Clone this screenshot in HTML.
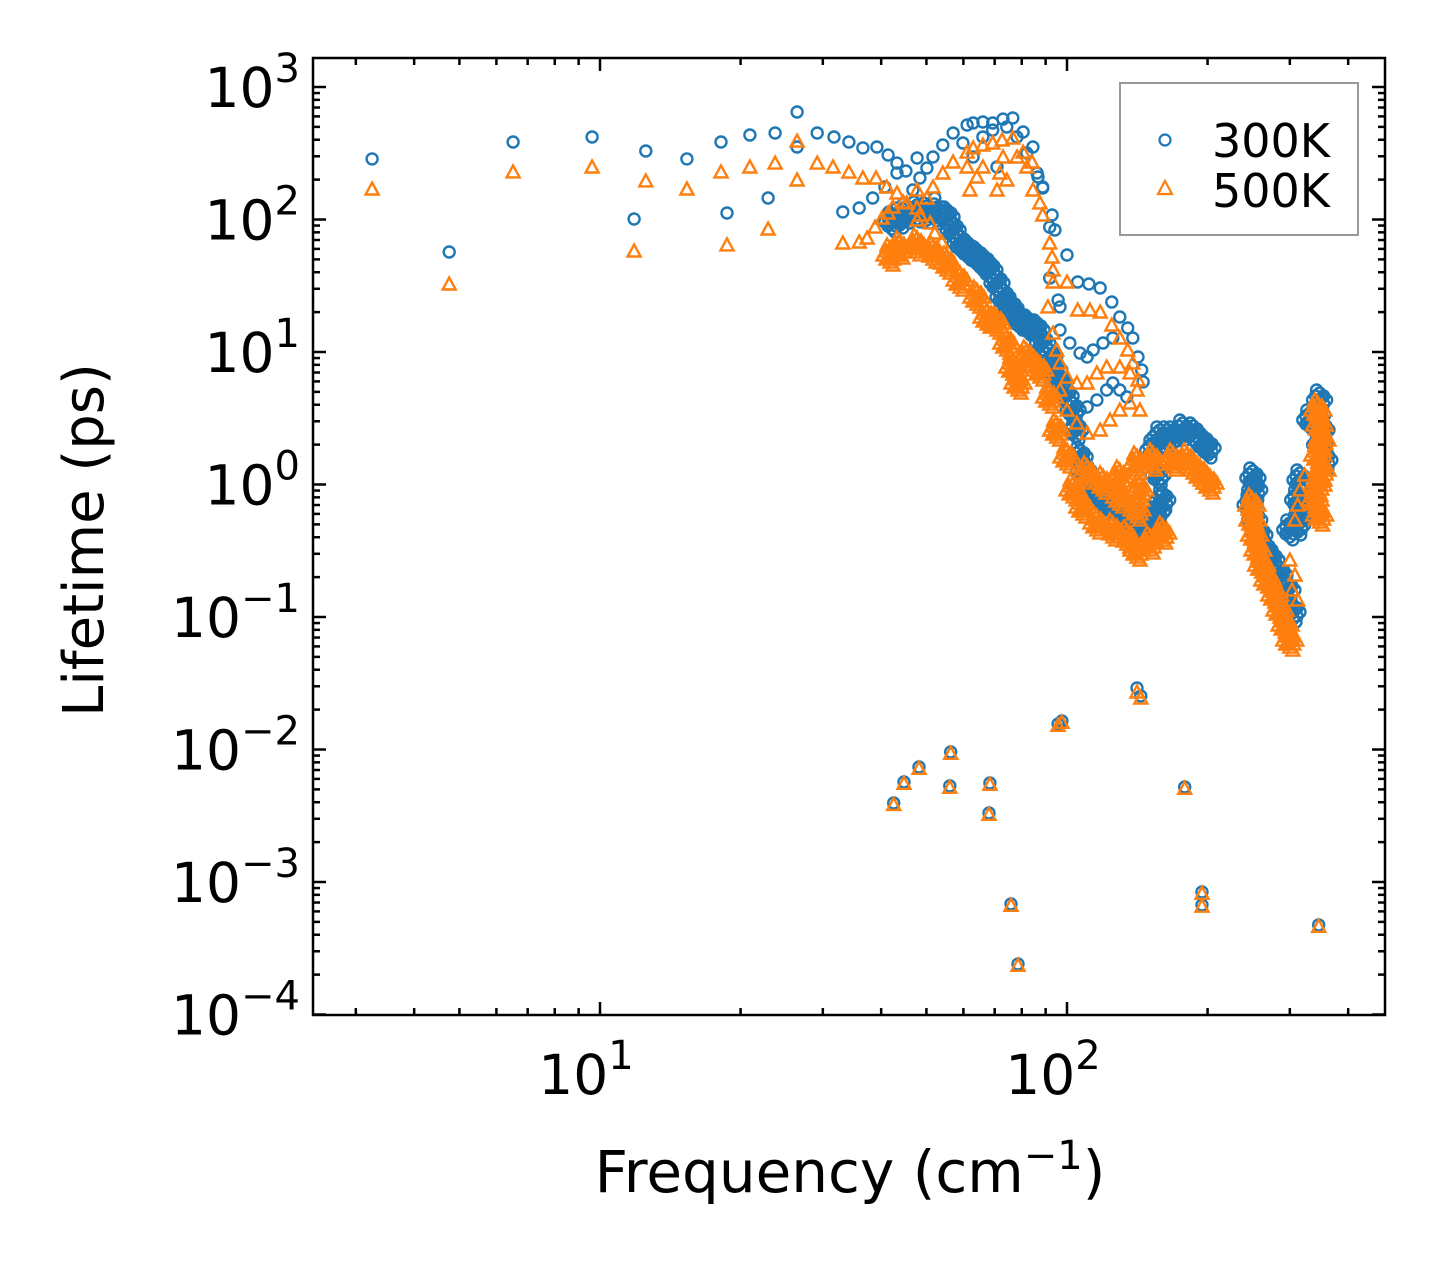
<!DOCTYPE html>
<html><head><meta charset="utf-8"><style>
html,body{margin:0;padding:0;background:#fff;}
svg{display:block;font-family:"DejaVu Sans","Liberation Sans",sans-serif;}
</style></head><body>
<svg id="chart" width="1443" height="1265" viewBox="0 0 1443 1265" xmlns="http://www.w3.org/2000/svg">
<rect x="0" y="0" width="1443" height="1265" fill="#fff"/>
<g id="marks"></g>
<g id="axes"></g>
<g id="legend">
  <rect x="1120" y="83" width="238" height="152" fill="#fff" fill-opacity="0.8" stroke="#999" stroke-width="2"/>
  <circle cx="1165" cy="140" r="5.5" fill="none" stroke="#1f77b4" stroke-width="2.2"/>
  <text x="1212" y="157" font-size="46" fill="#000">300K</text>
  <polygon points="1165,181 1172,194 1158,194" fill="none" stroke="#ff7f0e" stroke-width="2.2"/>
  <text x="1212" y="207" font-size="46" fill="#000">500K</text>
</g>
<text x="850" y="1192" font-size="58" text-anchor="middle" fill="#000">Frequency (cm<tspan dy="-23" font-size="40">−1</tspan><tspan dy="23">)</tspan></text>
<text transform="translate(103,540) rotate(-90)" font-size="56" text-anchor="middle" fill="#000">Lifetime (ps)</text>
</svg>
<script>
// log10 values: [log10 frequency (cm^-1), log10 lifetime (ps)]
const scatter300 = [[0.512,2.457],[0.677,1.755],[0.814,2.585],[0.983,2.623],[1.073,2.004],[1.098,2.517],[1.186,2.457],[1.259,2.585],[1.272,2.049],[1.321,2.638],[1.360,2.162],[1.375,2.653],[1.422,2.811],[1.422,2.547],[1.465,2.653],[1.501,2.623],[1.533,2.585],[1.563,2.540],[1.593,2.547],[1.617,2.487],[1.636,2.426],[1.655,2.366],[1.679,2.464],[1.700,2.389],[1.713,2.472],[1.734,2.562],[1.756,2.653],[1.786,2.713],[1.799,2.728],[1.820,2.736],[1.841,2.728],[1.863,2.758],[1.884,2.766],[1.906,2.660],[1.927,2.547],[1.938,2.321],[1.948,2.238],[1.968,2.034],[1.974,1.921],[2.000,1.732],[1.963,1.558],[2.023,1.528],[2.047,1.513],[2.071,1.483],[2.096,1.377],[2.113,1.264],[2.130,1.181],[2.141,1.106],[2.152,0.962],[2.160,0.864],[2.163,0.774],
[1.520,2.057],[1.555,2.087],[1.584,2.162],[1.610,2.245],[1.636,2.351],[1.670,2.223],[1.685,2.313],[1.717,2.162],[1.732,2.094],[1.777,2.577],[1.799,2.472],[1.820,2.623],[1.841,2.675],[1.850,2.396],[1.871,2.698],[1.893,2.623],[1.914,2.502],[1.936,2.351],[1.948,2.245],[1.963,1.943],[1.981,1.392],[1.985,1.340],[1.985,1.166],[2.006,1.068],[2.028,0.992],[2.043,0.962],[2.056,1.015],[2.077,1.068],[2.098,1.106],[2.098,0.766],[2.085,0.713],[2.064,0.638],[2.043,0.585],[2.113,0.713],[2.128,0.660],
[1.629,-2.404],[1.651,-2.245],[1.683,-2.132],[1.751,-2.019],[1.749,-2.275],[1.835,-2.253],[1.833,-2.479],[1.880,-3.166],[1.895,-3.619],[1.981,-1.807],[1.989,-1.785],[2.150,-1.536],[2.158,-1.596],[2.252,-2.283],[2.289,-3.075],[2.289,-3.173],[2.539,-3.324]];
const band300 = [[1.625,1.981],[1.642,2.011],[1.657,2.049],[1.679,2.057],[1.700,2.049],[1.722,2.042],[1.743,2.019],[1.756,1.921],[1.771,1.823],[1.788,1.770],[1.807,1.717],[1.822,1.672],[1.835,1.619],[1.850,1.521],[1.863,1.415],[1.880,1.332],[1.899,1.241],[1.916,1.204],[1.936,1.166],[1.948,1.068],[1.963,0.962],[1.974,0.864],[1.985,0.766],[1.998,0.668],[2.013,0.562],[2.019,0.411],[2.028,0.208],[2.036,0.109],[2.043,0.011],[2.060,-0.057],[2.077,-0.117],[2.096,-0.155],[2.113,-0.192],[2.128,-0.245],[2.141,-0.290],[2.158,-0.298],[2.178,-0.290],[2.193,-0.208],[2.205,-0.117],[2.195,0.072],[2.184,0.260],[2.199,0.359],[2.214,0.359],[2.227,0.359],[2.248,0.411],[2.270,0.389],[2.291,0.313],[2.302,0.276],
[2.398,0.049],[2.402,-0.041],[2.392,-0.155],[2.402,-0.268],[2.413,-0.381],[2.424,-0.494],[2.439,-0.570],[2.456,-0.683],[2.473,-0.796],[2.484,-0.962],[2.477,-0.343],[2.494,-0.306],[2.541,0.638],[2.537,0.525],[2.546,0.411],[2.541,0.298],[2.552,0.185],[2.499,0.034],[2.494,-0.117],[2.505,-0.192],[2.520,0.487]];
const scatter500 = [[0.512,2.230],[0.677,1.513],[0.814,2.359],[0.983,2.396],[1.073,1.762],[1.098,2.291],[1.186,2.230],[1.259,2.359],[1.272,1.808],[1.321,2.396],[1.360,1.928],[1.375,2.426],[1.422,2.592],[1.422,2.298],[1.465,2.426],[1.499,2.396],[1.533,2.358],[1.563,2.313],[1.591,2.313],[1.614,2.245],[1.636,2.200],[1.657,2.125],[1.679,2.223],[1.700,2.162],[1.713,2.245],[1.734,2.351],[1.756,2.434],[1.786,2.509],[1.799,2.540],[1.820,2.562],[1.841,2.577],[1.861,2.600],[1.884,2.615],[1.906,2.509],[1.925,2.434],[1.927,2.223],[1.942,2.125],[1.948,2.034],[1.963,1.823],[1.968,1.717],[1.970,1.619],[1.970,1.528],[2.000,1.528],[1.959,1.340],[2.023,1.317],[2.049,1.317],[2.071,1.302],[2.096,1.204],[2.113,1.106],[2.130,1.015],[2.141,0.917],[2.152,0.789],
[1.520,1.823],[1.555,1.830],[1.572,1.860],[1.589,1.943],[1.604,2.011],[1.617,2.049],[1.627,2.094],[1.649,2.132],[1.679,2.087],[1.685,2.034],[1.707,1.974],[1.717,1.898],[1.732,1.830],[1.679,1.996],
[1.786,2.396],[1.792,2.223],[1.807,2.321],[1.820,2.396],[1.850,2.223],[1.856,2.351],[1.863,2.472],[1.871,2.298],[1.893,2.472],[1.914,2.396],[1.970,1.143],[1.978,1.015],[1.985,0.917],[2.000,0.811],[2.021,0.766],[2.043,0.766],[2.064,0.842],[2.085,0.887],[2.113,0.887],[2.135,0.842],[2.150,0.713],[1.985,0.713],[2.000,0.562],[2.021,0.464],[2.043,0.389],[2.071,0.411],[2.092,0.487],[2.113,0.562],[2.135,0.615],[2.156,0.562],
[2.509,0.072],[2.499,-0.041],[2.494,-0.155],[2.488,-0.268],[2.477,-0.570],[2.488,-0.683],[2.482,-0.796],[2.494,-0.872],
[1.629,-2.414],[1.651,-2.255],[1.683,-2.142],[1.751,-2.029],[1.749,-2.285],[1.835,-2.263],[1.833,-2.489],[1.880,-3.176],[1.895,-3.629],[1.981,-1.817],[1.989,-1.795],[2.150,-1.566],[2.158,-1.611],[2.252,-2.293],[2.289,-3.085],[2.289,-3.183],[2.539,-3.334]];
const band500 = [[1.621,1.732],[1.642,1.785],[1.679,1.808],[1.713,1.755],[1.743,1.672],[1.771,1.543],[1.807,1.415],[1.829,1.264],[1.850,1.219],[1.871,1.068],[1.884,0.887],[1.895,0.766],[1.914,0.962],[1.942,0.864],[1.963,0.660],[1.978,0.411],[2.000,0.208],[2.013,-0.041],[2.034,-0.170],[2.064,-0.290],[2.098,-0.343],[2.128,-0.396],[2.150,-0.494],[2.178,-0.441],[2.205,-0.366],
[2.043,0.087],[2.077,0.011],[2.113,0.057],[2.150,0.162],[2.184,0.185],[2.227,0.185],[2.257,0.185],[2.285,0.087],[2.306,0.011],[2.113,-0.094],[2.156,-0.041],[2.150,-0.192],
[2.396,-0.155],[2.398,-0.268],[2.402,-0.381],[2.409,-0.494],[2.417,-0.608],[2.430,-0.721],[2.445,-0.834],[2.456,-0.947],[2.467,-1.060],[2.477,-1.174],[2.537,0.562],[2.541,0.449],[2.546,0.336],[2.537,0.223],[2.546,0.109],[2.537,-0.004],[2.531,-0.117],[2.541,-0.230]];
const yTickExps = [3,2,1,0,-1,-2,-3,-4];
const xTickExps = [1,2];

const NS = "http://www.w3.org/2000/svg";
const L = 313, R = 1385, T = 58, B = 1015;
function sx(lf){ return 600 + 467*(lf-1); }
function sy(lt){ return 87 + 132.5*(3-lt); }
const marks = document.getElementById('marks');
const axes = document.getElementById('axes');

function circ(x,y,name){
  const c = document.createElementNS(NS,'circle');
  c.setAttribute('cx',x.toFixed(1)); c.setAttribute('cy',y.toFixed(1)); c.setAttribute('r',5.5);
  c.setAttribute('fill','none'); c.setAttribute('stroke','#1f77b4'); c.setAttribute('stroke-width','2.4');
  
  
  marks.appendChild(c);
}
function tri(x,y,name){
  const p = document.createElementNS(NS,'polygon');
  p.setAttribute('points',`${x.toFixed(1)},${(y-6.5).toFixed(1)} ${(x+6.5).toFixed(1)},${(y+5.5).toFixed(1)} ${(x-6.5).toFixed(1)},${(y+5.5).toFixed(1)}`);
  p.setAttribute('fill','none'); p.setAttribute('stroke','#ff7f0e'); p.setAttribute('stroke-width','2.4');
  
  
  marks.appendChild(p);
}
const thick = [[0,0],[-4,-4],[4,-4],[-4,4],[4,4],[0,-7],[0,7],[-7,0],[7,0],[-3,-10],[3,10],[-2,2],[2,-2]];
scatter300.forEach(d=>circ(sx(d[0]),sy(d[1]),'point-300k'));
band300.forEach(d=>thick.forEach(o=>circ(sx(d[0])+o[0],sy(d[1])+o[1],'band-point-300k')));
scatter500.forEach(d=>tri(sx(d[0]),sy(d[1]),'point-500k'));
band500.forEach(d=>thick.forEach(o=>tri(sx(d[0])+o[0],sy(d[1])+o[1],'band-point-500k')));

function line(x1,y1,x2,y2,name){
  const l = document.createElementNS(NS,'line');
  l.setAttribute('x1',x1); l.setAttribute('y1',y1); l.setAttribute('x2',x2); l.setAttribute('y2',y2);
  l.setAttribute('stroke','#000'); l.setAttribute('stroke-width','2.5');
  
  
  axes.appendChild(l);
}
for(let e=-4;e<=3;e++){
  const y = sy(e);
  line(L,y,L+13,y,'y-major-tick'); line(R,y,R-13,y,'y-major-tick');
  if(e<3) for(let k=2;k<=9;k++){ const ym = sy(e+Math.log10(k)); if(ym>=T){ line(L,ym,L+7,ym,'y-minor-tick'); line(R,ym,R-7,ym,'y-minor-tick'); } }
}
yTickExps.forEach(e=>{
  const t = document.createElementNS(NS,'text');
  t.setAttribute('x',300); t.setAttribute('y',(sy(e)+20).toFixed(1)); t.setAttribute('text-anchor','end');
  t.setAttribute('font-size','55');
  
  
  t.innerHTML = '10<tspan dy="-25" font-size="40">'+(e<0?'−'+(-e):e)+'</tspan>';
  axes.appendChild(t);
});
for(let e=0;e<=2;e++){
  for(let k=1;k<=9;k++){
    const x = sx(e+Math.log10(k));
    if(x<L||x>R) continue;
    const len = k===1?13:7;
    line(x,B,x,B-len,k===1?'x-major-tick':'x-minor-tick'); line(x,T,x,T+len,k===1?'x-major-tick':'x-minor-tick');
  }
}
xTickExps.forEach(e=>{
  const t = document.createElementNS(NS,'text');
  t.setAttribute('x',(sx(e)-14).toFixed(1)); t.setAttribute('y',1094); t.setAttribute('text-anchor','middle');
  t.setAttribute('font-size','55');
  
  
  t.innerHTML = '10<tspan dy="-25" font-size="40">'+e+'</tspan>';
  axes.appendChild(t);
});
const frame = document.createElementNS(NS,'rect');
frame.setAttribute('x',L); frame.setAttribute('y',T); frame.setAttribute('width',R-L); frame.setAttribute('height',B-T);
frame.setAttribute('fill','none'); frame.setAttribute('stroke','#000'); frame.setAttribute('stroke-width','2.5');


axes.appendChild(frame);
</script>
</body></html>
